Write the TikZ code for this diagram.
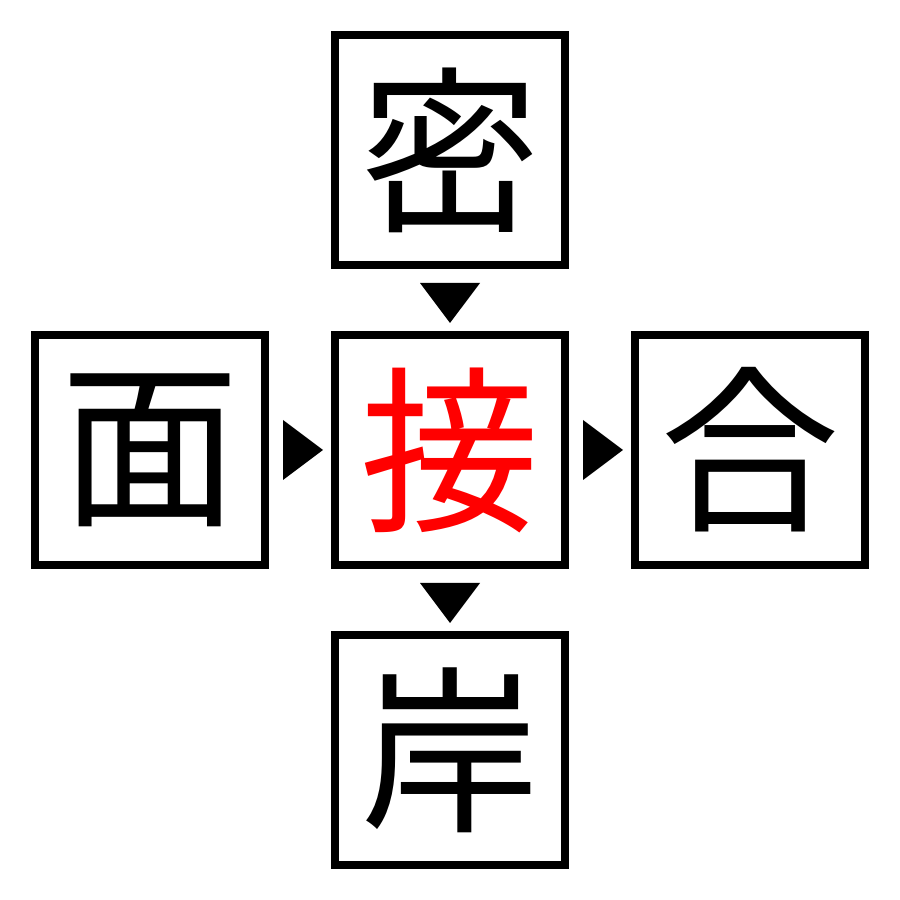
\documentclass[tikz,border=0pt]{standalone}
\usepackage{fontspec}
\newfontfamily\jpfont{Noto Sans CJK JP}
\usetikzlibrary{calc}
\begin{document}
\begin{tikzpicture}
    \tikzset{kanji/.style={draw, line width=0.08cm, minimum size=2.3cm, inner sep=0pt,
        font=\jpfont\fontsize{51}{51}\selectfont}}
    \useasboundingbox (0,0) rectangle (9,9);

    \node [kanji] (top) at (4.5,7.5) {密};
    \node [kanji] (left) at (1.5,4.5) {面};
    \node [kanji, text=red] (mid) at (4.5,4.5) {接};
    \node [kanji] (right) at (7.5,4.5) {合};
    \node [kanji] (bot) at (4.5,1.5) {岸};

    \foreach \a/\b/\r in {top/mid/-90, mid/bot/-90, left/mid/0, mid/right/0}{
	\coordinate (m) at ($(\a)!0.5!(\b)$);
	\fill [shift={(m)}, rotate=\r] (-0.17,0.3) -- (-0.17,-0.3) -- (0.23,0) -- cycle;
    }
\end{tikzpicture}
\end{document}
